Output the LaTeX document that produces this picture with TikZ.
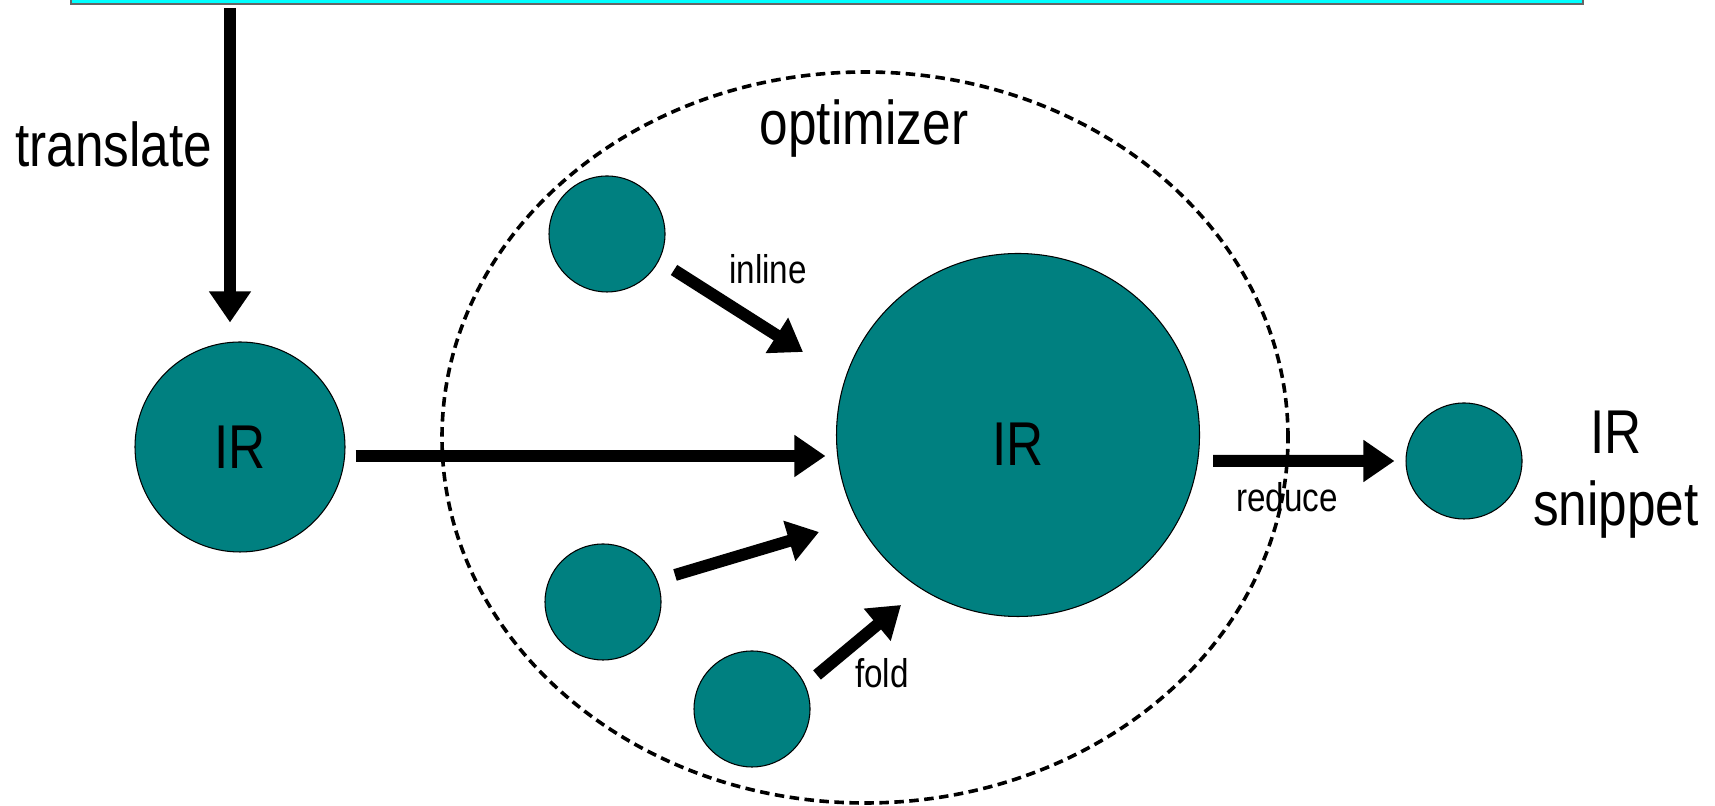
\documentclass[tikz,border=0pt]{standalone}
\usepackage{fontspec}
\setmainfont{Liberation Sans}[FakeStretch=0.83]
\usetikzlibrary{arrows.meta}
\definecolor{frontcyan}{RGB}{0,255,255}
\definecolor{blobteal}{RGB}{0,128,128}

\begin{document}
\begin{tikzpicture}[
    blob/.style={circle, draw=black, line width=0.3pt, fill=blobteal, inner sep=0pt},
    smallblob/.style={blob, minimum size=1.16cm},
    fatarrow/.style={line width=0.12cm, -{Triangle[width=0.4cm,length=0.31cm]}},
    bigtext/.style={font=\fontsize{17.6}{20.5}\selectfont, inner sep=0pt},
    smalltext/.style={font=\fontsize{11.4}{13.7}\selectfont, inner sep=0pt}]
  \useasboundingbox (0,0) rectangle (17.15,8.06);
  % front end box, cut off at the top
  \node[fill=frontcyan, draw=black!60, line width=0.5pt, minimum width=15.12cm, minimum height=0.4cm, inner sep=0pt] (front) at (8.27,8.22) {};
  % optimizer region
  \draw[dash pattern=on 0.095cm off 0.055cm, line width=0.036cm] (8.65,3.685) ellipse (4.23 and 3.655);
  \node[blob, minimum size=2.10cm, bigtext] (irl) at (2.40,3.59) {IR};
  \node[blob, minimum size=3.63cm, label={[bigtext, yshift=-0.095cm]center:IR}] (core) at (10.18,3.71) {};
  \node[smallblob] (s1) at (6.07,5.72) {};
  \node[smallblob] (s2) at (6.03,2.04) {};
  \node[smallblob] (s3) at (7.52,0.97) {};
  \node[smallblob] (snip) at (14.64,3.45) {};
  % arrows
  \draw[fatarrow, shorten <=0.03cm] ([xshift=-0.1cm]irl.north |- front.south) -- ([shift={(-0.1,0.19)}]irl.north);
  \draw[fatarrow, shorten <=0.1cm, shorten >=0.105cm] ([yshift=-0.09cm]irl.east) -- ([yshift=-0.21cm]core.west);
  \draw[fatarrow, shorten <=0.13cm, shorten >=0.11cm] ([yshift=-0.26cm]core.east) -- (snip.west);
  \draw[fatarrow] ([shift={(0.67,-0.36)}]s1.center) -- ([shift={(-2.15,0.83)}]core.center);
  \draw[fatarrow] ([shift={(0.72,0.27)}]s2.center) -- ([shift={(-1.99,-0.97)}]core.center);
  \draw[fatarrow] ([shift={(0.65,0.34)}]s3.center) -- ([shift={(-1.17,-1.70)}]core.center);
  % labels
  \node[bigtext, anchor=base east] (translate) at (2.13,6.39) {translate};
  \node[bigtext, anchor=base] (optimizer) at (8.64,6.61) {optimizer};
  \node[smalltext, anchor=base] (inline) at (7.68,5.22) {inline};
  \node[smalltext, anchor=base] (fold) at (8.82,1.18) {fold};
  \node[smalltext, anchor=base] (reduce) at (12.87,2.94) {reduce};
  \node[bigtext, align=center] (snippet) at (16.16,3.31) {IR\\snippet};
\end{tikzpicture}
\end{document}
